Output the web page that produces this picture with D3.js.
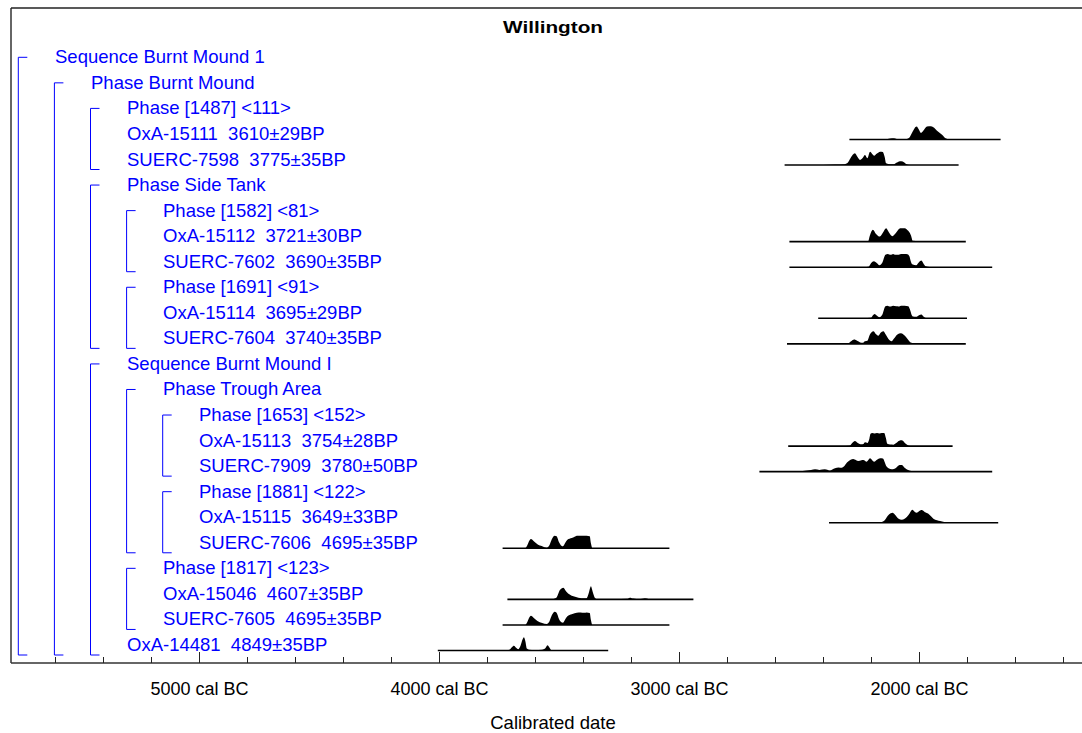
<!DOCTYPE html>
<html>
<head>
<meta charset="utf-8">
<script src="https://cdn.jsdelivr.net/npm/d3@7"></script>
<style>
  body { margin: 0; background: #fff; }
  svg { display: block; }
  text { font-family: "Liberation Sans", Arial, sans-serif; }
</style>
</head>
<body>
<svg id="chart" width="1082" height="733"></svg>
<script>
// ---- model structure (one label per row, top to bottom) ----
const rowLabels = [
  "Sequence Burnt Mound 1",
  "Phase Burnt Mound",
  "Phase [1487] <111>",
  "OxA-15111  3610\u00B129BP",
  "SUERC-7598  3775\u00B135BP",
  "Phase Side Tank",
  "Phase [1582] <81>",
  "OxA-15112  3721\u00B130BP",
  "SUERC-7602  3690\u00B135BP",
  "Phase [1691] <91>",
  "OxA-15114  3695\u00B129BP",
  "SUERC-7604  3740\u00B135BP",
  "Sequence Burnt Mound I",
  "Phase Trough Area",
  "Phase [1653] <152>",
  "OxA-15113  3754\u00B128BP",
  "SUERC-7909  3780\u00B150BP",
  "Phase [1881] <122>",
  "OxA-15115  3649\u00B133BP",
  "SUERC-7606  4695\u00B135BP",
  "Phase [1817] <123>",
  "OxA-15046  4607\u00B135BP",
  "SUERC-7605  4695\u00B135BP",
  "OxA-14481  4849\u00B135BP"
];
const rowIndent = [0,1,2,2,2,2,3,3,3,3,3,3,2,3,4,4,4,4,4,4,3,3,3,2];

// grouping brackets: [nesting level, first row, last row]
const brackets = [
  [0, 0, 23], [1, 1, 23],
  [2, 2, 4], [2, 5, 11], [3, 6, 8], [3, 9, 11],
  [2, 12, 23], [3, 13, 19], [4, 14, 16], [4, 17, 19], [3, 20, 22]
];

// rows carrying a calibrated date
const dateRows = [3, 4, 7, 8, 10, 11, 15, 16, 18, 19, 21, 22, 23];

// full plotted range of each distribution, years cal BC [from, to]
const dateRanges = [
  [2290, 1660], [2560, 1835], [2540, 1805], [2540, 1695], [2420, 1800],
  [2550, 1805], [2545, 1860], [2665, 1695], [2375, 1670],
  [3735, 3040], [3715, 2940], [3735, 3040], [4005, 3295]
];

// relative probability (% of maximum) by year cal BC
const probOxA15111 = [[2142,0],[2121,7],[2104,9],[2087,1],[2058,2],[2042,11],[2029,51],[2010,97],[2000,73],[1992,49],[1979,73],[1967,97],[1950,100],[1937,88],[1925,66],[1904,36],[1887,7],[1871,0]];
const probSUERC7598 = [[2400,0],[2350,3],[2310,6],[2298,15],[2285,53],[2267,88],[2256,60],[2246,38],[2235,53],[2225,75],[2215,50],[2204,100],[2195,83],[2187,70],[2175,86],[2162,100],[2151,98],[2143,60],[2137,13],[2121,6],[2108,5],[2092,19],[2080,29],[2068,26],[2054,8],[2037,0]];
const probOxA15112 = [[2300,0],[2275,4],[2250,1],[2212,2],[2205,45],[2192,90],[2180,60],[2163,38],[2150,68],[2137,100],[2125,68],[2111,40],[2095,68],[2078,100],[2060,100],[2050,90],[2040,70],[2033,45],[2026,6],[2000,2],[1983,0]];
const probSUERC7602 = [[2230,0],[2210,4],[2200,30],[2188,45],[2175,30],[2165,15],[2152,38],[2140,94],[2130,100],[2118,94],[2108,100],[2098,94],[2088,94],[2075,100],[2060,100],[2048,98],[2040,83],[2033,38],[2026,20],[2012,15],[2000,38],[1990,50],[1980,23],[1972,8],[1955,2],[1940,0]];
const probOxA15114 = [[2230,0],[2200,4],[2192,23],[2185,32],[2175,19],[2165,8],[2152,30],[2140,90],[2132,95],[2120,88],[2108,95],[2095,90],[2085,89],[2075,95],[2060,95],[2045,90],[2038,68],[2030,23],[2025,13],[2012,11],[2000,23],[1990,28],[1980,11],[1972,3],[1955,0]];
const probSUERC7604 = [[2320,0],[2295,4],[2283,19],[2270,32],[2258,23],[2245,11],[2235,8],[2225,20],[2215,23],[2205,68],[2190,95],[2180,75],[2169,62],[2160,83],[2149,95],[2138,68],[2128,38],[2114,20],[2105,38],[2090,71],[2076,80],[2065,71],[2055,53],[2042,23],[2035,11],[2020,6],[2000,2],[1985,0]];
const probOxA15113 = [[2320,0],[2290,2],[2278,23],[2267,38],[2255,23],[2240,13],[2232,15],[2225,28],[2215,23],[2207,53],[2202,92],[2195,98],[2185,94],[2175,98],[2165,95],[2155,98],[2145,98],[2138,60],[2132,17],[2120,11],[2107,10],[2095,23],[2082,41],[2072,43],[2060,26],[2048,8],[2037,0]];
const probSUERC7909 = [[2500,0],[2470,9],[2450,13],[2433,17],[2415,13],[2392,17],[2372,9],[2350,26],[2335,32],[2322,30],[2310,45],[2300,68],[2285,90],[2274,95],[2262,86],[2253,80],[2240,86],[2232,88],[2218,75],[2204,100],[2195,86],[2187,75],[2175,90],[2162,100],[2151,98],[2135,38],[2125,23],[2114,17],[2095,30],[2080,49],[2072,50],[2060,30],[2040,8],[2025,0]];
const probOxA15115 = [[2210,0],[2190,5],[2155,6],[2145,15],[2130,53],[2118,71],[2110,75],[2100,60],[2085,30],[2072,23],[2060,30],[2051,43],[2040,68],[2028,98],[2018,83],[2010,75],[2000,86],[1989,95],[1975,79],[1961,68],[1950,49],[1940,30],[1925,19],[1912,13],[1895,5],[1880,0]];
const probSUERC7606 = [[3640,0],[3632,23],[3625,53],[3617,70],[3605,53],[3590,30],[3570,15],[3551,4],[3540,23],[3530,68],[3518,94],[3510,90],[3500,45],[3490,19],[3484,15],[3475,38],[3465,64],[3447,77],[3435,86],[3426,95],[3410,95],[3395,94],[3385,95],[3372,90],[3367,38],[3362,0]];
const probOxA15046 = [[3530,0],[3510,15],[3497,68],[3482,88],[3470,60],[3454,35],[3440,23],[3426,17],[3400,8],[3385,8],[3375,53],[3367,98],[3360,60],[3350,11],[3340,2],[3315,3],[3270,2],[3215,4],[3205,13],[3190,6],[3165,2],[3142,8],[3125,2],[3100,0]];
const probSUERC7605 = [[3640,0],[3632,23],[3625,53],[3617,70],[3605,53],[3590,30],[3570,15],[3551,8],[3540,26],[3530,72],[3518,100],[3510,92],[3500,45],[3490,20],[3484,17],[3475,40],[3465,66],[3447,80],[3435,88],[3426,92],[3410,94],[3395,92],[3385,94],[3372,90],[3367,38],[3362,0]];
const probOxA14481 = [[3720,0],[3705,8],[3695,26],[3688,35],[3680,23],[3670,10],[3660,38],[3652,83],[3646,100],[3640,68],[3634,15],[3625,6],[3600,4],[3570,6],[3558,15],[3548,40],[3540,23],[3532,4],[3520,0]];

const densities = [
  probOxA15111, probSUERC7598, probOxA15112, probSUERC7602, probOxA15114,
  probSUERC7604, probOxA15113, probSUERC7909, probOxA15115,
  probSUERC7606, probOxA15046, probSUERC7605, probOxA14481
];

// axis
const minorTickYears = d3.range(5600, 1200, -200);
const majorTickYears = [5000, 4000, 3000, 2000];
const majorTickLabels = ["5000 cal BC", "4000 cal BC", "3000 cal BC", "2000 cal BC"];
const chartTitle = "Willington";
const axisTitle = "Calibrated date";

// ---- drawing ----
const svg = d3.select("#chart");
const frameLeft = 11, frameTop = 8, frameRight = 1082, axisY = 663;
const blue = "#0000ff";

// years cal BC -> horizontal position
const x = d3.scaleLinear().domain([5000, 2000]).range([199, 919]);
// row index -> vertical centre of row
const y = d3.scaleLinear().domain([0, 23]).range([57.3, 645]);
// probability -> height of the filled curve
const h = d3.scaleLinear().domain([0, 100]).range([0, 13.3]);

// frame
svg.append("line").attr("x1", frameLeft).attr("x2", frameLeft)
  .attr("y1", frameTop).attr("y2", axisY)
  .attr("stroke", "#333").attr("stroke-width", 1.5);
svg.append("line").attr("x1", frameLeft).attr("x2", frameRight)
  .attr("y1", frameTop).attr("y2", frameTop)
  .attr("stroke", "#222").attr("stroke-width", 1.5);

// title
svg.append("text")
  .attr("x", 553).attr("y", 33)
  .attr("text-anchor", "middle")
  .attr("font-size", 16).attr("font-weight", "bold")
  .attr("textLength", 100).attr("lengthAdjust", "spacingAndGlyphs")
  .text(chartTitle);

// brackets
const bx = lvl => 18.3 + 36.1 * lvl;
const bracketG = svg.append("g").attr("stroke", blue).attr("stroke-width", 1).attr("fill", "none");
brackets.forEach(([lvl, r0, r1]) => {
  const x0 = bx(lvl), y0 = y(r0), y1 = y(r1) + 10;
  bracketG.append("path")
    .attr("d", `M${x0 + 9},${y0}H${x0}V${y1}H${x0 + 9}`);
});

// row labels
svg.append("g").selectAll("text")
  .data(rowLabels)
  .join("text")
  .attr("x", (d, i) => 55 + 36 * rowIndent[i])
  .attr("y", (d, i) => y(i) + 6)
  .attr("font-size", 18.5)
  .attr("fill", blue)
  .attr("xml:space", "preserve")
  .style("white-space", "pre")
  .text(d => d);

// distributions
const distG = svg.append("g");
dateRows.forEach((row, k) => {
  const base = y(row) + 5.5;
  const area = d3.area()
    .x(d => x(d[0]))
    .y0(base)
    .y1(d => base - h(d[1]))
    .curve(d3.curveMonotoneX);
  distG.append("path")
    .attr("d", area(densities[k]))
    .attr("fill", "#000");
  const [a, b] = dateRanges[k];
  distG.append("line")
    .attr("x1", x(a)).attr("x2", x(b))
    .attr("y1", base).attr("y2", base)
    .attr("stroke", "#000").attr("stroke-width", 1.6);
});

// axis line
svg.append("line").attr("x1", frameLeft).attr("x2", frameRight)
  .attr("y1", axisY).attr("y2", axisY)
  .attr("stroke", "#333").attr("stroke-width", 1.5);

// minor ticks
const minorAxis = d3.axisBottom(x)
  .tickValues(minorTickYears)
  .tickSizeInner(-6).tickSizeOuter(0)
  .tickFormat("");
const gMinor = svg.append("g").attr("transform", `translate(0,${axisY})`).call(minorAxis);
gMinor.select(".domain").remove();
gMinor.selectAll(".tick line").attr("stroke", "#222");

// major ticks with labels
const majorAxis = d3.axisBottom(x)
  .tickValues(majorTickYears)
  .tickSizeInner(-11).tickSizeOuter(0)
  .tickPadding(19)
  .tickFormat((d, i) => majorTickLabels[i]);
const gMajor = svg.append("g").attr("transform", `translate(0,${axisY})`).call(majorAxis);
gMajor.select(".domain").remove();
gMajor.selectAll(".tick line").attr("stroke", "#222");
gMajor.selectAll(".tick text")
  .attr("font-family", "'Liberation Sans', Arial, sans-serif")
  .attr("font-size", 18).attr("fill", "#000");

// axis title
svg.append("text")
  .attr("x", 553).attr("y", 729)
  .attr("text-anchor", "middle")
  .attr("font-size", 18.5)
  .text(axisTitle);
</script>
</body>
</html>
